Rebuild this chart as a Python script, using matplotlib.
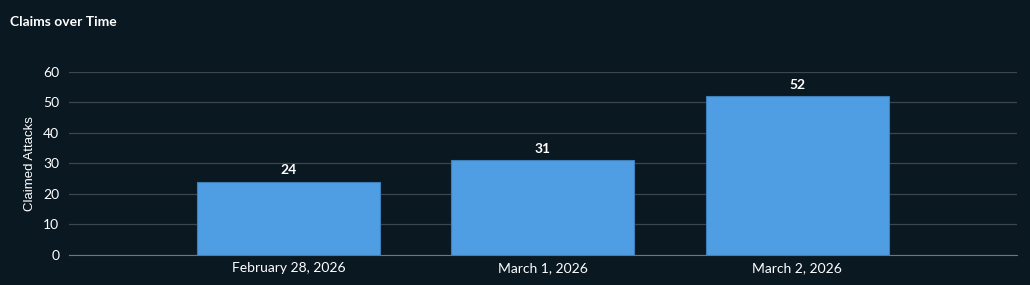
import matplotlib.pyplot as plt

dates = ["February 28, 2026", "March 1, 2026", "March 2, 2026"]
claims = [24, 31, 52]
yticks = [0, 10, 20, 30, 40, 50, 60]

bg = "#0a1822"
bar_color = "#4f9de2"

fig = plt.figure(figsize=(10.3, 2.85), dpi=100, facecolor=bg)
ax = fig.add_axes([0.067, 0.1053, 0.92, 0.6421], facecolor=bg)

x = range(len(dates))
bars = ax.bar(x, claims, width=0.72, color=bar_color, edgecolor="#3f7fb8", linewidth=0.8, zorder=3)

for b, v in zip(bars, claims):
    ax.text(b.get_x() + b.get_width() / 2, v + 1.8, str(v), ha="center", va="bottom",
            color="white", fontsize=10, fontweight="bold", family="Lato")

ax.set_xlim(-0.862, 2.862)
ax.set_ylim(0, 60)
ax.set_yticks(yticks)
ax.set_xticks(list(x))
ax.set_xticklabels(dates)
ax.tick_params(axis="both", length=0, colors="white", labelsize=10)
for lab in ax.get_xticklabels() + ax.get_yticklabels():
    lab.set_family("Lato")
ax.tick_params(axis="y", pad=7)
ax.tick_params(axis="x", pad=5)

ax.grid(axis="y", color="#3b4651", linewidth=0.9, zorder=0)
for s in ["top", "right", "left"]:
    ax.spines[s].set_visible(False)
ax.spines["bottom"].set_color("#6b7681")
ax.spines["bottom"].set_zorder(4)

ax.set_ylabel("Claimed Attacks", color="white", fontsize=9.5, family="Liberation Sans", labelpad=5)

fig.text(0.0097, 0.923, "Claims over Time", color="white", fontsize=10, fontweight="bold",
         family="Lato", ha="left", va="center")

fig.savefig("out.png", dpi=100, facecolor=bg)
